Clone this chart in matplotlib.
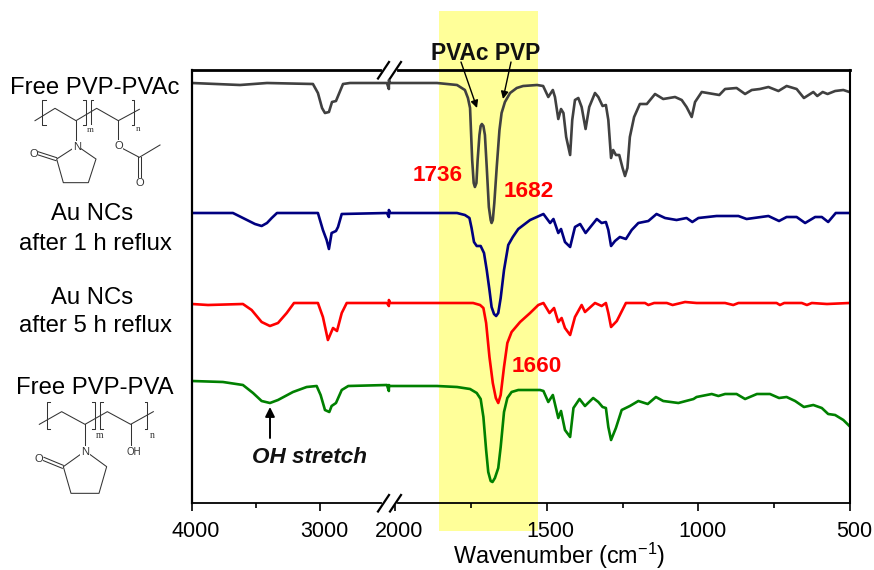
import numpy as np
import matplotlib
matplotlib.use("Agg")
import matplotlib.pyplot as plt
from matplotlib.lines import Line2D
from matplotlib.patches import Rectangle
from matplotlib.transforms import ScaledTranslation, blended_transform_factory

plt.rcParams["font.family"] = ["Liberation Sans", "DejaVu Sans"]
plt.rcParams["mathtext.default"] = "regular"

W, H = 874, 570

# spectra: wavenumber (cm-1) and offset transmittance (a.u.)
gray_wn = [4000, 3625, 3414, 3055, 3016, 2984, 2961, 2930, 2906, 2875, 2820, 2766, 2477, 2250, 2240, 2017,
           1862, 1796, 1770, 1760, 1753, 1746, 1741, 1737, 1732, 1728, 1722, 1718, 1714, 1709, 1704, 1698,
           1691, 1685, 1682, 1678, 1673, 1665, 1656, 1649, 1638, 1621, 1599, 1578, 1532, 1512, 1495, 1480,
           1473, 1462, 1453, 1445, 1436, 1423, 1416, 1407, 1396,
           1385, 1372, 1360, 1341, 1330, 1316, 1305, 1297, 1288, 1281, 1272, 1261, 1250, 1242, 1234, 1226,
           1212, 1193, 1170, 1143, 1116, 1077, 1055, 1039, 1022, 1011, 989, 931, 912, 874, 846, 824,
           797, 769, 736, 709, 676, 652, 621, 608, 590, 574, 549, 522, 502]
gray_t = [420, 418, 420, 419, 410, 395, 390, 391, 401, 402, 419, 420, 420, 414, 423, 420,
          420, 418, 413, 405, 395, 343, 320, 316, 320, 343, 368, 377, 379, 377, 368, 336,
          296, 283, 280, 283, 300, 336, 373, 390, 401, 410, 415, 417, 418, 417, 406, 413,
          406, 384, 394, 390, 366, 348, 383, 403, 405,
          396, 374, 396, 410, 406, 397, 398, 383, 345, 353, 348, 348, 335, 327, 335, 366,
          386, 399, 399, 409, 404, 406, 403, 396, 386, 401, 411, 408, 414, 415, 409, 413,
          414, 416, 412, 417, 414, 405, 411, 407, 411, 409, 412, 413, 411]

blue_wn = [4000, 3680, 3586, 3508, 3456, 3414, 3377, 3336, 3016, 2977, 2948, 2930, 2909, 2875, 2859, 2830,
           2477, 2250, 2240, 2017, 1796, 1770, 1755, 1748, 1740, 1731, 1718, 1707, 1698, 1689, 1682, 1674,
           1667, 1660, 1652, 1641, 1627, 1612, 1594, 1555, 1511, 1489, 1478, 1462, 1453, 1440, 1423, 1407,
           1390, 1372, 1335, 1319, 1305,
           1297, 1288, 1275, 1259, 1239, 1220, 1198, 1165, 1138, 1110, 1072, 1039, 1020, 1000, 940, 868,
           841, 769, 734, 709, 676, 648, 615, 593, 572, 547, 502]
blue_t = [290, 290, 284, 279, 277, 280, 285, 290, 290, 273, 263, 254, 270, 272, 276, 289,
          290, 286, 293, 290, 290, 288, 285, 275, 261, 257, 257, 250, 233, 213, 196, 189,
          187, 190, 205, 233, 258, 266, 274, 283, 289, 280, 284, 270, 274, 261, 256, 276,
          279, 270, 284, 280, 281,
          273, 257, 262, 266, 264, 273, 280, 282, 289, 285, 283, 285, 281, 285, 287, 287,
          284, 287, 282, 286, 286, 280, 286, 286, 281, 290, 290]

red_wn = [4000, 3875, 3602, 3534, 3456, 3391, 3328, 3260, 3203, 3016, 2977, 2938, 2898, 2867, 2830, 2791,
          2477, 2250, 2240, 2017, 1743, 1720, 1709, 1700, 1689, 1678, 1668, 1660, 1652, 1641, 1630, 1616,
          1588, 1555, 1528, 1511, 1491,
          1476, 1462, 1451, 1440, 1423, 1407, 1385, 1374, 1341, 1319, 1305, 1297, 1288, 1269, 1239, 1176,
          1165, 1146, 1104, 1085, 1044, 1006, 912, 885, 868, 742, 731, 717, 659, 642, 626, 576, 502]
red_t = [199, 198, 199, 193, 181, 177, 180, 190, 200, 200, 186, 163, 175, 172, 190, 200,
         200, 197, 203, 200, 200, 198, 195, 180, 146, 120, 105, 100, 108, 136, 160, 171,
         181, 190, 198, 200, 190,
         195, 181, 185, 175, 168, 186, 198, 191, 200, 197, 200, 190, 176, 182, 200, 200,
         198, 200, 200, 198, 201, 200, 200, 198, 200, 200, 198, 200, 200, 198, 200, 199, 200]

green_wn = [4000, 3758, 3602, 3523, 3456, 3391, 3328, 3211, 3104, 3026, 2995, 2961, 2927, 2909, 2875, 2830,
            2779, 2477, 2250, 2240, 2017, 1862, 1796, 1753, 1731, 1718, 1709, 1700, 1693, 1685, 1679, 1671,
            1660, 1652, 1641, 1630, 1616, 1594, 1522, 1511, 1495, 1480, 1462, 1453, 1440, 1423, 1412, 1392,
            1374, 1347, 1330, 1316, 1305,
            1297, 1288, 1272, 1253, 1226, 1198, 1167, 1140, 1116, 1066, 1016, 1006, 956, 934, 912, 874,
            846, 807, 764, 734, 709, 681, 652, 621, 593, 572, 549, 522, 502]
green_t = [122, 121, 118, 110, 102, 100, 103, 111, 116, 117, 108, 93, 91, 97, 100, 113,
           117, 118, 112, 118, 117, 117, 116, 114, 110, 104, 86, 53, 31, 22, 21, 25,
           35, 56, 91, 105, 111, 113, 113, 112, 101, 108, 85, 92, 73, 66, 95, 104,
           97, 105, 101, 96, 95,
           76, 63, 75, 93, 97, 102, 99, 106, 102, 100, 104, 106, 109, 107, 109, 109,
           104, 109, 109, 105, 106, 102, 96, 98, 95, 89, 88, 83, 77]

major_ticks = [4000, 3000, 2000, 1500, 1000, 500]
minor_ticks = [3500, 1750, 1250, 750]

# broken wavenumber axis: 2470-2017 is squeezed into the break
scale_wn = [500, 2017, 2470, 4000]
scale_pos = [0, 460, 462.2, 658]


def forward(w):
    return np.interp(w, scale_wn, scale_pos)


def inverse(p):
    return np.interp(p, scale_pos, scale_wn)


def fx(x):
    return x / W


def fy(y):
    return 1 - y / H


fig = plt.figure(figsize=(W / 100, H / 100), dpi=100)
ax = fig.add_axes([fx(192), fy(503), 658 / W, 433 / H])
ax.set_xscale("function", functions=(forward, inverse))
ax.set_xlim(4000, 500)
ax.set_ylim(0, 433)

# yellow band sticks out of the frame on both sides
trans = blended_transform_factory(ax.transData, ax.transAxes)
ax.add_patch(Rectangle((1855, -0.0647), 1530 - 1855, 1.2007, transform=trans,
                       facecolor="#ffff99", edgecolor="none", clip_on=False, zorder=0))

ax.plot(gray_wn, gray_t, color="#404040", lw=1.9, zorder=3)
ax.plot(blue_wn, blue_t, color="#000080", lw=1.9, zorder=3)
ax.plot(red_wn, red_t, color="#ff0000", lw=1.9, zorder=3)
ax.plot(green_wn, green_t, color="#008000", lw=1.9, zorder=3)

ax.set_xticks(major_ticks)
ax.set_xticklabels([str(t) for t in major_ticks])
ax.set_xticks(minor_ticks, minor=True)
ax.set_yticks([])
ax.tick_params(axis="x", which="major", length=6, width=1.2, labelsize=15.5, pad=7)
ax.tick_params(axis="x", which="minor", length=3.4, width=1.2)
for lab in ax.get_xticklabels():
    lab.set_transform(lab.get_transform() + ScaledTranslation(4 / 100, 0, fig.dpi_scale_trans))

ax.spines["top"].set_linewidth(2)
ax.spines["left"].set_linewidth(1.6)
ax.spines["bottom"].set_linewidth(1.3)
ax.spines["right"].set_linewidth(1.5)
for s in ax.spines.values():
    s.set_zorder(4)

ax.set_xlabel("Wavenumber (cm$^{-1}$)", fontsize=16.8)
ax.xaxis.set_label_coords((559 - 192) / 658, -0.122)
ax.xaxis.label.set_verticalalignment("center")


def seg(xs, ys, color="black", lw=1.0, zorder=6):
    fig.add_artist(Line2D([fx(x) for x in xs], [fy(y) for y in ys], color=color, lw=lw, zorder=zorder))


# axis break marks
for y0 in (70, 503):
    seg([384, 395], [y0, y0], color="white", lw=3, zorder=5)
    seg([378, 389], [y0 + 8.5, y0 - 8], lw=1.6)
    seg([390, 401], [y0 + 8.5, y0 - 8], lw=1.6)


def label(x, y, s, size=17.2, **kw):
    fig.text(fx(x), fy(y + 1.5), s, fontsize=size, ha="center", va="center", zorder=7, **kw)


label(94.5, 86, "Free PVP-PVAc")
label(92, 213, "Au NCs")
label(95.5, 243, "after 1 h reflux")
label(92, 296, "Au NCs")
label(95.5, 325, "after 5 h reflux")
label(95, 387, "Free PVP-PVA")

label(486, 52, "PVAc PVP", size=16.4, fontweight="bold", color="#111111")
label(438, 174, "1736", size=16.2, fontweight="bold", color="red")
label(529, 190, "1682", size=16.2, fontweight="bold", color="red")
label(537, 365, "1660", size=16.2, fontweight="bold", color="red")
label(310, 456, "OH stretch", size=16.2, fontweight="bold", style="italic", color="#111111")


def arrow(x0, y0, x1, y1, lw=1.0, scale=11):
    ax.annotate("", xy=(fx(x1), fy(y1)), xytext=(fx(x0), fy(y0)),
                xycoords="figure fraction", textcoords="figure fraction",
                arrowprops=dict(arrowstyle="-|>", color="black", lw=lw, mutation_scale=scale,
                                shrinkA=0, shrinkB=0), zorder=7, annotation_clip=False)


arrow(461, 62, 477, 108)
arrow(511, 62, 503, 99)
arrow(270, 438, 270, 407, lw=1.4, scale=14)


# structure sketches, (X, Y) in crop units: scale 1/3 from an origin
def struct(pts, ox, oy, lw=0.75):
    seg([ox + p[0] / 3 for p in pts], [oy + p[1] / 3 for p in pts], color="#333333", lw=lw)


def atom(x, y, s, ox, oy, size=8, **kw):
    fig.text(fx(ox + x / 3), fy(oy + y / 3), s, fontsize=size, ha="center", va="center",
             color="#333333", zorder=7,
             bbox=dict(facecolor="white", edgecolor="none", pad=0.4), **kw)


# PVP-PVAc
o = (0, 60)
struct([(105, 182), (165, 145), (228, 182), (290, 145), (355, 182), (418, 148)], *o)
struct([(137, 120), (125, 120), (125, 195), (137, 195)], *o)
struct([(250, 120), (258, 120), (258, 195), (250, 195)], *o)
struct([(280, 120), (272, 120), (272, 195), (280, 195)], *o)
struct([(395, 120), (402, 120), (402, 195), (395, 195)], *o)
struct([(228, 182), (228, 245)], *o)
struct([(355, 182), (355, 245)], *o)
struct([(218, 266), (170, 297), (190, 368), (265, 368), (288, 297), (243, 266)], *o)
struct([(170, 293), (114, 275)], *o)
struct([(168, 302), (112, 284)], *o)
struct([(367, 265), (418, 292), (480, 255)], *o)
struct([(414, 292), (414, 355)], *o)
struct([(423, 292), (423, 355)], *o)
atom(230, 260, "N", *o)
atom(355, 258, "O", *o)
atom(100, 282, "O", *o)
atom(418, 370, "O", *o)
atom(272, 210, "m", *o, size=6.5, family="Liberation Serif")
atom(415, 208, "n", *o, size=6.5, family="Liberation Serif")

# PVP-PVA
o = (0, 370)
struct([(118, 163), (185, 125), (255, 163), (322, 125), (392, 163), (460, 125)], *o)
struct([(150, 97), (140, 97), (140, 178), (150, 178)], *o)
struct([(277, 97), (285, 97), (285, 178), (277, 178)], *o)
struct([(308, 97), (300, 97), (300, 178), (308, 178)], *o)
struct([(434, 97), (442, 97), (442, 178), (434, 178)], *o)
struct([(255, 163), (255, 230)], *o)
struct([(392, 163), (392, 228)], *o)
struct([(243, 252), (190, 290), (213, 370), (297, 370), (320, 290), (268, 252)], *o)
struct([(190, 286), (132, 262)], *o)
struct([(187, 295), (128, 271)], *o)
atom(255, 245, "N", *o)
atom(115, 268, "O", *o)
atom(400, 245, "OH", *o, size=7)
atom(300, 195, "m", *o, size=7, family="Liberation Serif")
atom(458, 195, "n", *o, size=7, family="Liberation Serif")

fig.savefig("out.png", dpi=100)
